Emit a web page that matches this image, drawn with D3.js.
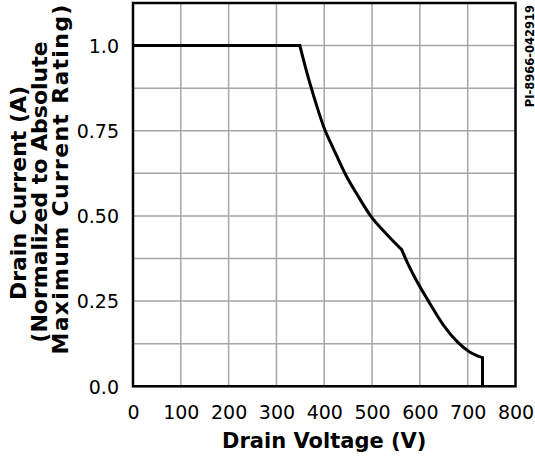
<!DOCTYPE html>
<html><head><meta charset="utf-8">
<script src="https://cdn.jsdelivr.net/npm/d3@7/dist/d3.min.js"></script>
<style>
html,body{margin:0;padding:0;background:#fff;}
svg{display:block;}
</style></head>
<body>
<svg id="chart" width="535" height="458"></svg>
<script>
// Data
const voltage = [0, 349, 360, 372, 385, 398, 420, 447, 470, 497, 530, 562, 570, 590, 618, 650, 680, 705, 731, 731];
const current = [1.0, 1.0, 0.94, 0.88, 0.82, 0.765, 0.695, 0.615, 0.56, 0.5, 0.447, 0.401, 0.375, 0.318, 0.25, 0.178, 0.128, 0.1, 0.084, 0.0];
const xTicks = [0, 100, 200, 300, 400, 500, 600, 700, 800];
const yTicks = [0.0, 0.25, 0.5, 0.75, 1.0];
const yTickLabels = ["0.0", "0.25", "0.50", "0.75", "1.0"];
const yGrid = [0.125, 0.25, 0.375, 0.5, 0.625, 0.75, 0.875, 1.0];
const xLabel = "Drain Voltage (V)";
const yLabelLines = ["Drain Current (A)", "(Normalized to Absolute", "Maximum Current Rating)"];
const docId = "PI-8966-042919";

const svg = d3.select("#chart");
const L = 133, R = 515.5, T = 3, B = 386.3;
const x = d3.scaleLinear().domain([0, 800]).range([L, R]);
const y = d3.scaleLinear().domain([0, 1.125]).range([B, T]);
const font = "'DejaVu Sans', Verdana, sans-serif";

// grid
const g = svg.append("g");
g.selectAll(".vg").data(xTicks.slice(1, -1)).enter().append("line")
  .attr("x1", d => x(d)).attr("x2", d => x(d)).attr("y1", T).attr("y2", B)
  .attr("stroke", "#a6a6a6").attr("stroke-width", 1.5);
g.selectAll(".hg").data(yGrid).enter().append("line")
  .attr("y1", d => y(d)).attr("y2", d => y(d)).attr("x1", L).attr("x2", R)
  .attr("stroke", "#a6a6a6").attr("stroke-width", 1.5);

// axes (labels only)
const xAxis = d3.axisBottom(x).tickValues(xTicks).tickSize(0).tickPadding(0).tickFormat(d3.format("d"));
const xa = svg.append("g").attr("transform", `translate(0,${B})`).call(xAxis);
xa.select(".domain").remove();
xa.selectAll("text").attr("font-family", font).attr("font-size", 19).attr("fill", "#000")
  .attr("dy", null).attr("y", 33);

const yAxis = d3.axisLeft(y).tickValues(yTicks).tickSize(0).tickPadding(0)
  .tickFormat((d, i) => yTickLabels[i]);
const ya = svg.append("g").attr("transform", `translate(${L - 14},0)`).call(yAxis);
ya.select(".domain").remove();
ya.selectAll("text").attr("font-family", font).attr("font-size", 19).attr("fill", "#000")
  .attr("dy", "0.36em");

// frame
svg.append("rect").attr("x", L).attr("y", T).attr("width", R - L).attr("height", B - T)
  .attr("fill", "none").attr("stroke", "#000").attr("stroke-width", 2.5);

// curve
const pts = voltage.map((v, i) => [v, current[i]]);
const seg1 = pts.slice(1, 12);   // 349 .. 562
const seg2 = pts.slice(11, 19);  // 562 .. 731
const lineLin = d3.line().x(d => x(d[0])).y(d => y(d[1]));
const lineCurve = d3.line().x(d => x(d[0])).y(d => y(d[1])).curve(d3.curveMonotoneX);
const p = lineLin([pts[0], pts[1]]) + lineCurve(seg1).replace(/^M/, "L")
  + lineCurve(seg2).replace(/^M/, "L") + lineLin([pts[18], pts[19]]).replace(/^M/, "L");
svg.append("path").attr("d", p).attr("fill", "none").attr("stroke", "#000")
  .attr("stroke-width", 3).attr("stroke-linejoin", "miter");

// x title
svg.append("text").attr("x", (L + R) / 2).attr("y", 448).attr("text-anchor", "middle")
  .attr("font-family", font).attr("font-weight", "bold").attr("font-size", 21).text(xLabel);

// y title
const yLineCenters = [193, 192, 179];
const yLineSpacing = [0, 0, 1.3];
yLabelLines.forEach((s, i) => {
  svg.append("text").attr("transform", `translate(${25.5 + i * 21},${yLineCenters[i]}) rotate(-90)`)
    .attr("text-anchor", "middle").attr("font-family", font).attr("font-weight", "bold")
    .attr("font-size", 22).attr("letter-spacing", yLineSpacing[i]).text(s);
});

// doc id
svg.append("text").attr("transform", `translate(533.5,5) rotate(-90)`).attr("text-anchor", "end")
  .attr("font-family", font).attr("font-weight", "bold").attr("font-size", 11.5).text(docId);
</script>
</body></html>
